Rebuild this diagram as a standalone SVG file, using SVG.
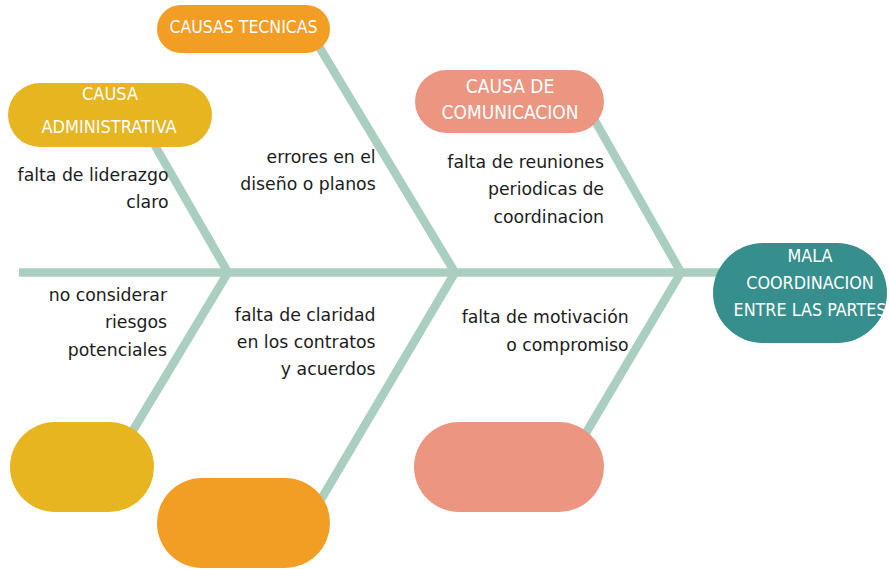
<svg xmlns="http://www.w3.org/2000/svg" width="890" height="569" viewBox="0 0 890 569">
  <style>
    .bone { fill: none; stroke: #AACFC1; stroke-width: 8.5; stroke-linejoin: miter; stroke-miterlimit: 10; stroke-linecap: butt; }
    .lbl { font-family: "DejaVu Sans Condensed", "DejaVu Sans", sans-serif; font-stretch: condensed; fill: #ffffff; text-anchor: middle; }
    .txt { font-family: "DejaVu Sans", "Liberation Sans", sans-serif; font-size: 17.3px; fill: #1c1c1c; text-anchor: end; }
    .gold { fill: #E7B51F; }
    .orange { fill: #F29D23; }
    .salmon { fill: #EC9682; }
    .teal { fill: #368F8D; }
  </style>
  <rect width="890" height="569" fill="#ffffff"/>

  <g id="connectors">
    <line class="bone" x1="19" y1="272.5" x2="730" y2="272.5"/>
    <polyline class="bone" points="150,137 228,272.5 132,432"/>
    <polyline class="bone" points="312,35 455,272.5 316,508"/>
    <polyline class="bone" points="590,112 681,272.5 580,443"/>
  </g>

  <g id="head">
    <rect class="teal" x="713" y="243" width="174" height="100" rx="50" ry="50"/>
    <text class="lbl" font-size="17.8" x="810" y="262">MALA</text>
    <text class="lbl" font-size="17.8" x="810" y="289">COORDINACION</text>
    <text class="lbl" font-size="17.8" x="810" y="316">ENTRE LAS PARTES</text>
  </g>

  <g id="causa-administrativa">
    <rect class="gold" x="8" y="83" width="204" height="64" rx="32" ry="32"/>
    <text class="lbl" font-size="18" x="110" y="100">CAUSA</text>
    <text class="lbl" font-size="18" x="109" y="133">ADMINISTRATIVA</text>
  </g>

  <g id="causas-tecnicas">
    <rect class="orange" x="157" y="5" width="173" height="48" rx="24" ry="24"/>
    <text class="lbl" font-size="17.5" x="243.5" y="33.3">CAUSAS TECNICAS</text>
  </g>

  <g id="causa-comunicacion">
    <rect class="salmon" x="415" y="70" width="189" height="63" rx="31.5" ry="31.5"/>
    <text class="lbl" font-size="19" x="510" y="93.3">CAUSA DE</text>
    <text class="lbl" font-size="19" x="510" y="119.3">COMUNICACION</text>
  </g>

  <g id="box-bottom-gold">
    <rect class="gold" x="10" y="422" width="144" height="90" rx="45" ry="45"/>
  </g>
  <g id="box-bottom-orange">
    <rect class="orange" x="157" y="478" width="173" height="90" rx="45" ry="45"/>
  </g>
  <g id="box-bottom-salmon">
    <rect class="salmon" x="414" y="422" width="190" height="90" rx="45" ry="45"/>
  </g>

  <g id="label-liderazgo">
    <text class="txt" x="168.5" y="180.7">falta de liderazgo</text>
    <text class="txt" x="168.5" y="208.3">claro</text>
  </g>
  <g id="label-errores">
    <text class="txt" x="375.7" y="162.7">errores en el</text>
    <text class="txt" x="375.7" y="190">diseño o planos</text>
  </g>
  <g id="label-reuniones">
    <text class="txt" x="604" y="167.5">falta de reuniones</text>
    <text class="txt" x="604" y="195">periodicas de</text>
    <text class="txt" x="604" y="222.5">coordinacion</text>
  </g>
  <g id="label-riesgos">
    <text class="txt" x="167" y="300.7">no considerar</text>
    <text class="txt" x="167" y="328">riesgos</text>
    <text class="txt" x="167" y="355.7">potenciales</text>
  </g>
  <g id="label-claridad">
    <text class="txt" x="375.6" y="320.7">falta de claridad</text>
    <text class="txt" x="375.6" y="348">en los contratos</text>
    <text class="txt" x="375.6" y="375">y acuerdos</text>
  </g>
  <g id="label-motivacion">
    <text class="txt" x="628.7" y="323.3">falta de motivación</text>
    <text class="txt" x="628.7" y="350.7">o compromiso</text>
  </g>
</svg>
